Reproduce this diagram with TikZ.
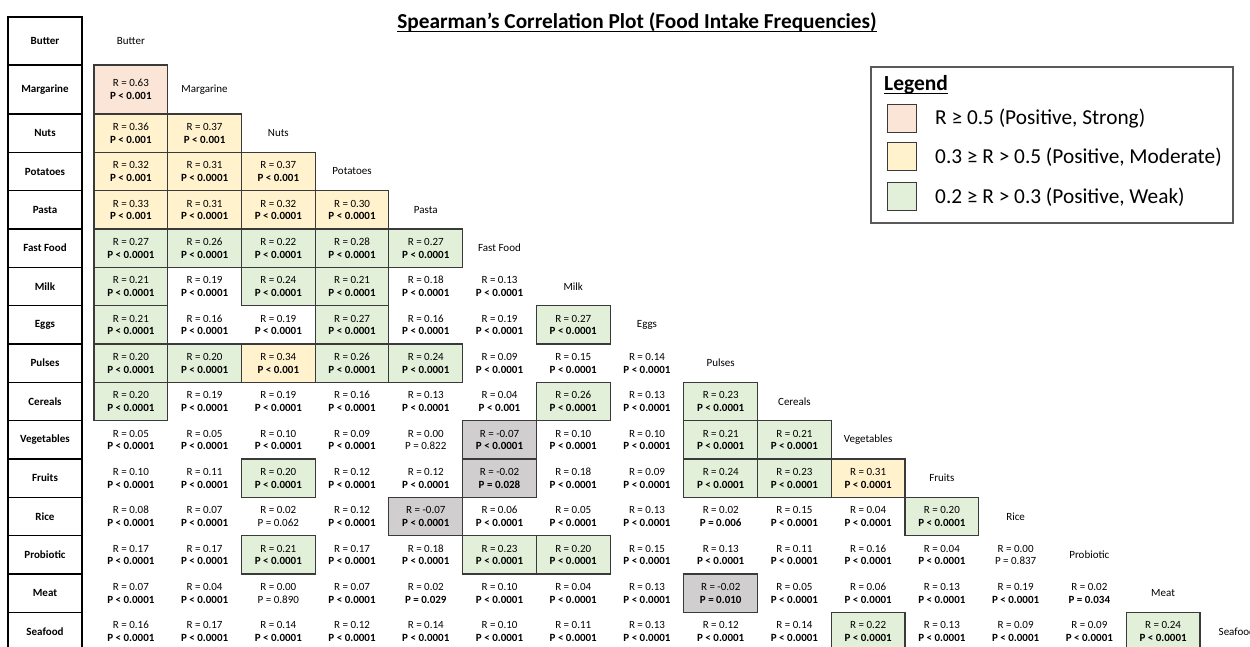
\documentclass[tikz,border=0pt]{standalone}
\usepackage{fontspec}
\setmainfont{Carlito}
\definecolor{cstrong}{HTML}{FBE5D6}
\definecolor{cmoder}{HTML}{FFF2CC}
\definecolor{cweak}{HTML}{E2F0D9}
\definecolor{cneg}{HTML}{D0CECE}
\definecolor{bord}{HTML}{3A3A3A}
\definecolor{legbord}{HTML}{595959}
\newcommand\PA{\textbf{P < 0.0001}}
\newcommand\PB{\textbf{P < 0.001}}
\tikzset{
  cellbase/.style={minimum width=73.73pt, inner sep=0pt, align=center,
    font=\fontsize{11}{12.7}\selectfont, text=black, line width=1.1pt},
  strong/.style={cellbase, fill=cstrong, draw=bord},
  moder/.style={cellbase, fill=cmoder, draw=bord},
  weak/.style={cellbase, fill=cweak, draw=bord},
  neg/.style={cellbase, fill=cneg, draw=bord},
  plain/.style={cellbase},
  leftbox/.style={draw=black, line width=1.2pt, minimum width=74pt, inner sep=0pt,
    font=\fontsize{11}{13}\selectfont\bfseries},
  diaglab/.style={inner sep=0pt, font=\fontsize{11}{13}\selectfont},
  swatch/.style={draw=bord, line width=1pt, minimum width=29pt, minimum height=28pt, inner sep=0pt},
  legtext/.style={anchor=west, inner sep=0pt, font=\fontsize{21.3}{24}\selectfont},
  uline/.style={line width=1.3pt, black},
}
\newcommand\rowcy[1]{#1==1 ? 41 : (#1==2 ? 89.5 : 114+(#1-2.5)*38.333)}
\newcommand\rowhh[1]{#1==1 ? 48 : (#1==2 ? 49 : 38.333)}
\newcommand\cel[5]{%
  \pgfmathsetmacro\cx{94+(#2-0.5)*73.73}%
  \pgfmathsetmacro\cy{\rowcy{#1}}%
  \pgfmathsetmacro\chh{\rowhh{#1}}%
  \node[#3, minimum height=\chh pt] (c-#1-#2) at (\cx,\cy) {R = #4\\#5};}
\begin{document}
\begin{tikzpicture}[x=1pt,y=-1pt]
\useasboundingbox (0,0) rectangle (1250,647);
% title
\node[font=\fontsize{21.3}{25}\selectfont\bfseries, inner sep=0pt] (title) at (637,22.5)
  {Spearman’s Correlation Plot (Food Intake Frequencies)};
\draw[uline] ([yshift=-2.5pt]title.base west) -- ([yshift=-2.5pt]title.base east);
% left column and diagonal labels
\foreach \k/\n in {1/Butter,2/Margarine,3/Nuts,4/Potatoes,5/Pasta,6/Fast Food,7/Milk,8/Eggs,
  9/Pulses,10/Cereals,11/Vegetables,12/Fruits,13/Rice,14/Probiotic,15/Meat,16/Seafood}{
  \pgfmathsetmacro\cy{\rowcy{\k}}
  \pgfmathsetmacro\chh{\rowhh{\k}}
  \pgfmathsetmacro\dx{94+(\k-0.5)*73.73}
  \node[leftbox, minimum height=\chh pt] (l-\k) at (45,\cy) {\n};
  \node[diaglab] (d-\k) at (\dx,\cy) {\n};
}
% cells
\cel{2}{1}{strong}{0.63}{\PB}
\foreach \c/\s/\r/\p in {1/moder/0.36/\PB,2/moder/0.37/\PB}{\cel{3}{\c}{\s}{\r}{\p}}
\foreach \c/\s/\r/\p in {1/moder/0.32/\PB,2/moder/0.31/\PA,3/moder/0.37/\PB}{\cel{4}{\c}{\s}{\r}{\p}}
\foreach \c/\s/\r/\p in {1/moder/0.33/\PB,2/moder/0.31/\PA,3/moder/0.32/\PA,4/moder/0.30/\PA}{\cel{5}{\c}{\s}{\r}{\p}}
\foreach \c/\s/\r/\p in {1/weak/0.27/\PA,2/weak/0.26/\PA,3/weak/0.22/\PA,4/weak/0.28/\PA,5/weak/0.27/\PA}{\cel{6}{\c}{\s}{\r}{\p}}
\foreach \c/\s/\r/\p in {1/weak/0.21/\PA,2/plain/0.19/\PA,3/weak/0.24/\PA,4/weak/0.21/\PA,5/plain/0.18/\PA,6/plain/0.13/\PA}{\cel{7}{\c}{\s}{\r}{\p}}
\foreach \c/\s/\r/\p in {1/weak/0.21/\PA,2/plain/0.16/\PA,3/plain/0.19/\PA,4/weak/0.27/\PA,5/plain/0.16/\PA,6/plain/0.19/\PA,7/weak/0.27/\PA}{\cel{8}{\c}{\s}{\r}{\p}}
\foreach \c/\s/\r/\p in {1/weak/0.20/\PA,2/weak/0.20/\PA,3/moder/0.34/\PB,4/weak/0.26/\PA,5/weak/0.24/\PA,6/plain/0.09/\PA,7/plain/0.15/\PA,8/plain/0.14/\PA}{\cel{9}{\c}{\s}{\r}{\p}}
\foreach \c/\s/\r/\p in {1/weak/0.20/\PA,2/plain/0.19/\PA,3/plain/0.19/\PA,4/plain/0.16/\PA,5/plain/0.13/\PA,6/plain/0.04/\PB,7/weak/0.26/\PA,8/plain/0.13/\PA,9/weak/0.23/\PA}{\cel{10}{\c}{\s}{\r}{\p}}
\foreach \c/\s/\r/\p in {1/plain/0.05/\PA,2/plain/0.05/\PA,3/plain/0.10/\PA,4/plain/0.09/\PA,5/plain/0.00/{P = 0.822},6/neg/-0.07/\PA,7/plain/0.10/\PA,8/plain/0.10/\PA,9/weak/0.21/\PA,10/weak/0.21/\PA}{\cel{11}{\c}{\s}{\r}{\p}}
\foreach \c/\s/\r/\p in {1/plain/0.10/\PA,2/plain/0.11/\PA,3/weak/0.20/\PA,4/plain/0.12/\PA,5/plain/0.12/\PA,6/neg/-0.02/\textbf{P = 0.028},7/plain/0.18/\PA,8/plain/0.09/\PA,9/weak/0.24/\PA,10/weak/0.23/\PA,11/moder/0.31/\PA}{\cel{12}{\c}{\s}{\r}{\p}}
\foreach \c/\s/\r/\p in {1/plain/0.08/\PA,2/plain/0.07/\PA,3/plain/0.02/{P = 0.062},4/plain/0.12/\PA,5/neg/-0.07/\PA,6/plain/0.06/\PA,7/plain/0.05/\PA,8/plain/0.13/\PA,9/plain/0.02/\textbf{P = 0.006},10/plain/0.15/\PA,11/plain/0.04/\PA,12/weak/0.20/\PA}{\cel{13}{\c}{\s}{\r}{\p}}
\foreach \c/\s/\r/\p in {1/plain/0.17/\PA,2/plain/0.17/\PA,3/weak/0.21/\PA,4/plain/0.17/\PA,5/plain/0.18/\PA,6/weak/0.23/\PA,7/weak/0.20/\PA,8/plain/0.15/\PA,9/plain/0.13/\PA,10/plain/0.11/\PA,11/plain/0.16/\PA,12/plain/0.04/\PA,13/plain/0.00/{P = 0.837}}{\cel{14}{\c}{\s}{\r}{\p}}
\foreach \c/\s/\r/\p in {1/plain/0.07/\PA,2/plain/0.04/\PA,3/plain/0.00/{P = 0.890},4/plain/0.07/\PA,5/plain/0.02/\textbf{P = 0.029},6/plain/0.10/\PA,7/plain/0.04/\PA,8/plain/0.13/\PA,9/neg/-0.02/\textbf{P = 0.010},10/plain/0.05/\PA,11/plain/0.06/\PA,12/plain/0.13/\PA,13/plain/0.19/\PA,14/plain/0.02/\textbf{P = 0.034}}{\cel{15}{\c}{\s}{\r}{\p}}
\foreach \c/\s/\r/\p in {1/plain/0.16/\PA,2/plain/0.17/\PA,3/plain/0.14/\PA,4/plain/0.12/\PA,5/plain/0.14/\PA,6/plain/0.10/\PA,7/plain/0.11/\PA,8/plain/0.13/\PA,9/plain/0.12/\PA,10/plain/0.14/\PA,11/weak/0.22/\PA,12/plain/0.13/\PA,13/plain/0.09/\PA,14/plain/0.09/\PA,15/weak/0.24/\PA}{\cel{16}{\c}{\s}{\r}{\p}}
% legend
\node[draw=legbord, line width=1.2pt, minimum width=362pt, minimum height=156pt, inner sep=0pt] (legend) at (1052,145) {};
\node[anchor=west, inner sep=0pt, font=\fontsize{21.5}{24}\selectfont\bfseries] (legtitle) at (884,85) {Legend};
\draw[uline] ([yshift=-2.5pt]legtitle.base west) -- ([yshift=-2.5pt]legtitle.base east);
\node[swatch, fill=cstrong] (s1) at (901.5,119) {};
\node[swatch, fill=cmoder] (s2) at (901.5,157) {};
\node[swatch, fill=cweak] (s3) at (901.5,197) {};
\node[legtext] (t1) at (935,119) {R ≥ 0.5 (Positive, Strong)};
\node[legtext] (t2) at (935,157) {0.3 ≥ R > 0.5 (Positive, Moderate)};
\node[legtext] (t3) at (935,197) {0.2 ≥ R > 0.3 (Positive, Weak)};
\end{tikzpicture}
\end{document}
